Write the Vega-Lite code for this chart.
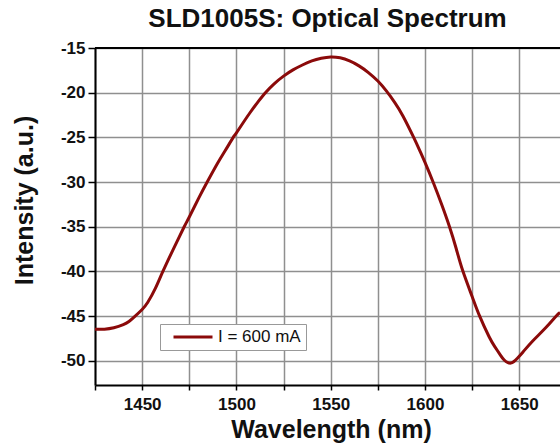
{
  "$schema": "https://vega.github.io/schema/vega-lite/v6.json",
  "width": 465,
  "height": 337,
  "autosize": {"type": "none"},
  "padding": {"left": 95, "top": 48, "right": 0, "bottom": 60},
  "background": "white",
  "title": {
    "text": "SLD1005S: Optical Spectrum",
    "font": "Liberation Sans",
    "fontSize": 26,
    "fontWeight": "bold",
    "color": "#111111",
    "anchor": "middle",
    "frame": "group",
    "baseline": "alphabetic",
    "offset": -14
  },
  "config": {
    "view": {"stroke": null},
    "axis": {
      "labelFont": "Liberation Sans",
      "titleFont": "Liberation Sans",
      "labelFontWeight": "bold",
      "titleFontWeight": "bold",
      "labelColor": "#111111",
      "titleColor": "#111111",
      "domainColor": "#000000",
      "domainWidth": 2,
      "tickColor": "#000000",
      "tickWidth": 1.5,
      "gridColor": "#8f8f8f",
      "gridWidth": 1.5,
      "gridOpacity": 1
    }
  },
  "data": {
    "values": [
      {"wl": 1425, "val": -46.45, "series": "I = 600 mA"},
      {"wl": 1430, "val": -46.45, "series": "I = 600 mA"},
      {"wl": 1435, "val": -46.3, "series": "I = 600 mA"},
      {"wl": 1440, "val": -45.95, "series": "I = 600 mA"},
      {"wl": 1443, "val": -45.6, "series": "I = 600 mA"},
      {"wl": 1446, "val": -45.05, "series": "I = 600 mA"},
      {"wl": 1450, "val": -44.25, "series": "I = 600 mA"},
      {"wl": 1453, "val": -43.45, "series": "I = 600 mA"},
      {"wl": 1457, "val": -41.9, "series": "I = 600 mA"},
      {"wl": 1461, "val": -40.0, "series": "I = 600 mA"},
      {"wl": 1467, "val": -37.3, "series": "I = 600 mA"},
      {"wl": 1472.3, "val": -35.0, "series": "I = 600 mA"},
      {"wl": 1475, "val": -33.9, "series": "I = 600 mA"},
      {"wl": 1480, "val": -31.8, "series": "I = 600 mA"},
      {"wl": 1484.5, "val": -30.0, "series": "I = 600 mA"},
      {"wl": 1490, "val": -27.9, "series": "I = 600 mA"},
      {"wl": 1494, "val": -26.5, "series": "I = 600 mA"},
      {"wl": 1498.3, "val": -25.0, "series": "I = 600 mA"},
      {"wl": 1500, "val": -24.5, "series": "I = 600 mA"},
      {"wl": 1507, "val": -22.3, "series": "I = 600 mA"},
      {"wl": 1515, "val": -20.1, "series": "I = 600 mA"},
      {"wl": 1520, "val": -19.0, "series": "I = 600 mA"},
      {"wl": 1525, "val": -18.15, "series": "I = 600 mA"},
      {"wl": 1530, "val": -17.45, "series": "I = 600 mA"},
      {"wl": 1535, "val": -16.9, "series": "I = 600 mA"},
      {"wl": 1540, "val": -16.45, "series": "I = 600 mA"},
      {"wl": 1545, "val": -16.15, "series": "I = 600 mA"},
      {"wl": 1550, "val": -16.0, "series": "I = 600 mA"},
      {"wl": 1555, "val": -16.1, "series": "I = 600 mA"},
      {"wl": 1560, "val": -16.45, "series": "I = 600 mA"},
      {"wl": 1565, "val": -17.0, "series": "I = 600 mA"},
      {"wl": 1570, "val": -17.75, "series": "I = 600 mA"},
      {"wl": 1575, "val": -18.7, "series": "I = 600 mA"},
      {"wl": 1579.5, "val": -19.8, "series": "I = 600 mA"},
      {"wl": 1584, "val": -21.1, "series": "I = 600 mA"},
      {"wl": 1588.3, "val": -22.6, "series": "I = 600 mA"},
      {"wl": 1594, "val": -25.0, "series": "I = 600 mA"},
      {"wl": 1597.5, "val": -26.6, "series": "I = 600 mA"},
      {"wl": 1600, "val": -27.8, "series": "I = 600 mA"},
      {"wl": 1604.5, "val": -30.1, "series": "I = 600 mA"},
      {"wl": 1609, "val": -32.6, "series": "I = 600 mA"},
      {"wl": 1613, "val": -35.0, "series": "I = 600 mA"},
      {"wl": 1616.5, "val": -37.4, "series": "I = 600 mA"},
      {"wl": 1620, "val": -39.9, "series": "I = 600 mA"},
      {"wl": 1625, "val": -42.8, "series": "I = 600 mA"},
      {"wl": 1629, "val": -45.0, "series": "I = 600 mA"},
      {"wl": 1634, "val": -47.3, "series": "I = 600 mA"},
      {"wl": 1637, "val": -48.4, "series": "I = 600 mA"},
      {"wl": 1640, "val": -49.35, "series": "I = 600 mA"},
      {"wl": 1642, "val": -49.9, "series": "I = 600 mA"},
      {"wl": 1644, "val": -50.2, "series": "I = 600 mA"},
      {"wl": 1645.5, "val": -50.25, "series": "I = 600 mA"},
      {"wl": 1647, "val": -50.1, "series": "I = 600 mA"},
      {"wl": 1649, "val": -49.7, "series": "I = 600 mA"},
      {"wl": 1652, "val": -49.0, "series": "I = 600 mA"},
      {"wl": 1657, "val": -47.8, "series": "I = 600 mA"},
      {"wl": 1664, "val": -46.3, "series": "I = 600 mA"},
      {"wl": 1669.5, "val": -45.0, "series": "I = 600 mA"},
      {"wl": 1671.6, "val": -44.6, "series": "I = 600 mA"}
    ]
  },
  "layer": [
    {
      "mark": {"type": "line", "strokeWidth": 3, "interpolate": "natural", "clip": true},
      "encoding": {
        "x": {
          "field": "wl",
          "type": "quantitative",
          "scale": {"domain": [1425, 1671.6], "nice": false, "zero": false},
          "axis": {
            "title": "Wavelength (nm)",
            "titleFontSize": 25,
            "titleX": 236,
            "titleY": 52,
            "titleAlign": "center",
            "titleBaseline": "alphabetic",
            "values": [1425, 1450, 1475, 1500, 1525, 1550, 1575, 1600, 1625, 1650, 1675],
            "labelExpr": "datum.value % 50 == 0 ? toString(datum.value) : ''",
            "labelFontSize": 17,
            "labelPadding": 6,
            "tickSize": 5,
            "grid": true
          }
        },
        "y": {
          "field": "val",
          "type": "quantitative",
          "scale": {"domain": [-52.7, -15], "nice": false, "zero": false},
          "axis": {
            "title": "Intensity (a.u.)",
            "titleFontSize": 25,
            "titleAngle": -90,
            "titleX": -63,
            "titleY": 152,
            "titleAlign": "center",
            "titleBaseline": "alphabetic",
            "values": [-50, -45, -40, -35, -30, -25, -20, -15],
            "labelExpr": "toString(datum.value)",
            "labelFontSize": 17,
            "labelPadding": 3,
            "tickSize": 7,
            "grid": true
          }
        },
        "color": {
          "field": "series",
          "type": "nominal",
          "scale": {"range": ["#8b0a0a"]},
          "legend": {
            "title": null,
            "orient": "none",
            "legendX": 65,
            "legendY": 276,
            "symbolType": "stroke",
            "symbolSize": 1521,
            "symbolStrokeWidth": 3,
            "symbolOffset": 7,
            "clipHeight": 16,
            "labelOffset": 4,
            "labelFont": "Liberation Sans",
            "labelFontSize": 17,
            "labelColor": "#111111",
            "padding": 5,
            "strokeColor": "#999999",
            "fillColor": "white"
          }
        }
      }
    },
    {
      "mark": {"type": "rule", "color": "#000000", "strokeWidth": 2},
      "encoding": {"y": {"datum": -15}}
    }
  ]
}
